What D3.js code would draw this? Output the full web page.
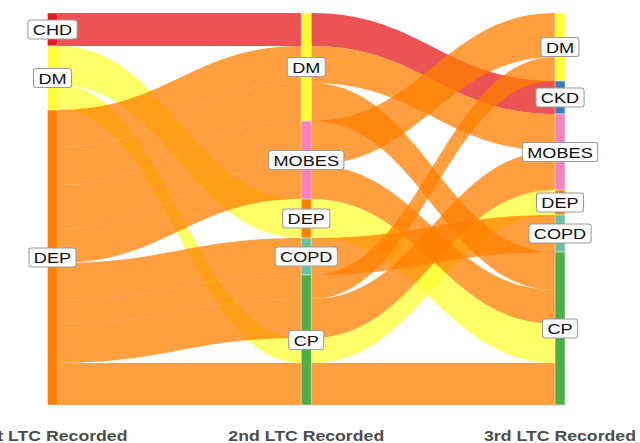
<!DOCTYPE html>
<html>
<head>
<meta charset="utf-8">
<title>LTC alluvial</title>
<script src="https://cdn.jsdelivr.net/npm/d3@7"></script>
<style>
  body { margin: 0; background: #fff; }
  svg { display: block; font-family: "Liberation Sans", Arial, sans-serif; }
</style>
</head>
<body>
<svg id="chart" width="640" height="443"></svg>
<script>
// axes and strata (top to bottom)
var axisTitles = ["1st LTC Recorded", "2nd LTC Recorded", "3rd LTC Recorded"]
var strataOrder = ["CHD", "DM", "CKD", "MOBES", "DEP", "COPD", "CP"]
var strataColours = ["#E41A1C", "#FFFF33", "#377EB8", "#F781BF", "#FF7F00", "#66C2A5", "#4DAF4A"]

// one entry per alluvium (pathway of 1st -> 2nd -> 3rd condition)
var firstLTC  = ["CHD", "DM",  "DM",  "DEP",   "DEP", "DEP",   "DEP",   "DEP",  "DEP", "DEP",   "DEP"]
var secondLTC = ["DM",  "DEP", "CP",  "DM",    "DM",  "MOBES", "MOBES", "COPD", "CP",  "CP",    "CP"]
var thirdLTC  = ["CKD", "CP",  "DEP", "MOBES", "CP",  "DM",    "CP",    "COPD", "DM",  "MOBES", "CP"]
var patients  = [33, 39, 25, 37, 38, 44, 34, 37, 24, 39, 42]

var svg = d3.select("#chart")
var halfW = 5        // half stratum width
var bend = 0.45      // bezier control offset

var x = d3.scalePoint().domain(axisTitles).range([52.5, 560])
var y = d3.scaleLinear().domain([0, d3.sum(patients)]).range([13, 405])
var colour = d3.scaleOrdinal().domain(strataOrder).range(strataColours)
var rank = function (s) { return strataOrder.indexOf(s) }

var paths = patients.map(function (n, i) {
  return { s: [firstLTC[i], secondLTC[i], thirdLTC[i]], n: n, lo: [] }
})

// lode order at each axis (zigzag guidance)
var guidance = [[0, 1, 2], [1, 2, 0], [2, 1, 0]]
guidance.forEach(function (g, a) {
  var sorted = paths.slice().sort(function (p, q) {
    for (var k of g) {
      var d = rank(p.s[k]) - rank(q.s[k])
      if (d) return d
    }
    return 0
  })
  var cum = 0
  sorted.forEach(function (p) { p.lo[a] = [cum, cum + p.n]; cum += p.n })
})

function alluviumPath(p) {
  var xs = axisTitles.map(function (a) { return x(a) })
  var top = p.lo.map(function (l) { return y(l[0]) })
  var bot = p.lo.map(function (l) { return y(l[1]) })
  var path = d3.path()
  path.moveTo(xs[0] - halfW, top[0])
  for (var a = 0; a < 3; a++) {
    path.lineTo(xs[a] + halfW, top[a])
    if (a < 2) {
      var x0 = xs[a] + halfW, x1 = xs[a + 1] - halfW, m = (x1 - x0) * bend
      path.bezierCurveTo(x0 + m, top[a], x1 - m, top[a + 1], x1, top[a + 1])
    }
  }
  path.lineTo(xs[2] + halfW, bot[2])
  for (var a = 2; a >= 0; a--) {
    path.lineTo(xs[a] - halfW, bot[a])
    if (a > 0) {
      var x0 = xs[a] - halfW, x1 = xs[a - 1] + halfW, m = (x0 - x1) * bend
      path.bezierCurveTo(x0 - m, bot[a], x1 + m, bot[a - 1], x1, bot[a - 1])
    }
  }
  path.closePath()
  return path.toString()
}

svg.append("g").selectAll("path")
  .data(paths)
  .join("path")
  .attr("d", alluviumPath)
  .attr("fill", function (p) { return colour(p.s[0]) })
  .attr("fill-opacity", 0.75)

// strata boxes
var strata = []
axisTitles.forEach(function (ax, a) {
  strataOrder.forEach(function (s) {
    var members = paths.filter(function (p) { return p.s[a] == s })
    if (members.length == 0) return
    strata.push({
      axis: ax, name: s,
      y0: d3.min(members, function (p) { return p.lo[a][0] }),
      y1: d3.max(members, function (p) { return p.lo[a][1] })
    })
  })
})

svg.append("g").selectAll("rect")
  .data(strata)
  .join("rect")
  .attr("x", function (d) { return x(d.axis) - halfW })
  .attr("y", function (d) { return y(d.y0) })
  .attr("width", halfW * 2)
  .attr("height", function (d) { return y(d.y1) - y(d.y0) })
  .attr("fill", function (d) { return colour(d.name) })
  .attr("stroke", "#ffffff")
  .attr("stroke-opacity", 0.6)
  .attr("stroke-width", 0.8)

// labels
var labels = svg.append("g").selectAll("g")
  .data(strata)
  .join("g")
  .attr("transform", function (d) {
    return "translate(" + x(d.axis) + "," + y((d.y0 + d.y1) / 2) + ") scale(1.17,1)"
  })

labels.append("text")
  .attr("text-anchor", "middle")
  .attr("dy", "0.36em")
  .attr("font-size", 15.5)
  .attr("fill", "#111")
  .text(function (d) { return d.name })

labels.each(function () {
  var g = d3.select(this)
  var bb = g.select("text").node().getBBox()
  g.insert("rect", "text")
    .attr("x", bb.x - 4.2)
    .attr("y", -9.5)
    .attr("width", bb.width + 8.4)
    .attr("height", 19)
    .attr("rx", 2.5)
    .attr("fill", "#fff")
    .attr("stroke", "#9a9a9a")
    .attr("stroke-width", 0.9)
})

// axis titles
svg.append("g").selectAll("text")
  .data(axisTitles)
  .join("text")
  .attr("transform", function (d) { return "translate(" + x(d) + ",441) scale(1.18,1)" })
  .attr("text-anchor", "middle")
  .attr("font-size", 15)
  .attr("font-weight", "bold")
  .attr("fill", "#4d4d4d")
  .text(function (d) { return d })
</script>
</body>
</html>
